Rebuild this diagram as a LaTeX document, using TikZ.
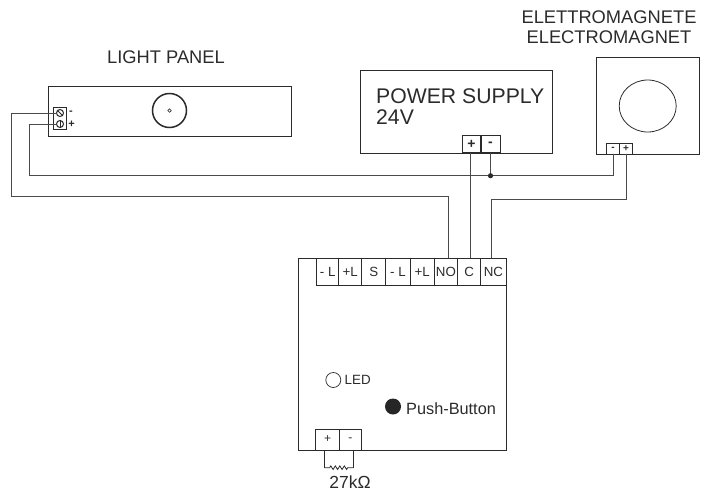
\documentclass[tikz,border=0pt]{standalone}
\usepackage{fontspec}
\setmainfont{Liberation Sans}
\usetikzlibrary{decorations.pathmorphing,shapes.geometric}
\definecolor{ink}{HTML}{2B2B2B}
\definecolor{wiregray}{HTML}{4A4A4A}
\tikzstyle{devbox} = [draw=ink, line width=1.2pt, rectangle, inner sep=0, anchor=north west]
\tikzstyle{cell} = [draw=ink, line width=0.8pt, rectangle, inner sep=0, text=ink, font=\fontsize{13.3}{13.3}\selectfont, minimum height=27.5pt]
\tikzstyle{smallcell} = [draw=ink, line width=0.8pt, rectangle, inner sep=0, text=ink, font=\fontsize{12}{12}\selectfont]
\tikzstyle{wire} = [draw=wiregray, line width=0.9pt, line join=miter]
\tikzstyle{title} = [text=ink, inner sep=0, font=\fontsize{18.3}{20}\selectfont]
\tikzstyle{screw} = [draw=ink, circle, line width=1pt, inner sep=0, minimum size=7pt]

\begin{document}
\begin{tikzpicture}[x=1pt,y=-1pt]
\useasboundingbox (0,0) rectangle (714,493);
% light panel
\node [devbox, minimum width=243pt, minimum height=50pt] (panel) at (48,86) {};
\node [draw=ink, line width=0.8pt, inner sep=0, minimum width=12.5pt, minimum height=21.5pt] (block) at (60,118.5) {};
\node [screw] (screwMinus) at (60,113) {};
\node [screw] (screwPlus) at (60,124) {};
\draw [ink, line width=0.8pt] (screwMinus.north west) -- (screwMinus.south east);
\draw [ink, line width=0.8pt] (screwPlus.north) -- (screwPlus.south);
\node [inner sep=0, text=ink, font=\fontsize{11}{11}\selectfont\bfseries] (lblMinus) at (71,112.5) {-};
\node [inner sep=0, text=ink, font=\fontsize{11}{11}\selectfont\bfseries] (lblPlus) at (71.5,124) {+};
\node [draw=ink, circle, line width=1.5pt, inner sep=0, minimum size=34pt] (lens) at (169.5,110.5) {};
\node [draw=ink, circle, line width=0.7pt, inner sep=0, minimum size=3.5pt] (lensDot) at (lens.center) {};
\node [title] (panelTitle) at (166,57.5) {LIGHT PANEL};

% power supply
\node [devbox, minimum width=191.5pt, minimum height=82.5pt] (supply) at (360,70) {};
\node [title, font=\fontsize{21.2}{21}\selectfont, align=left, anchor=north west] (supplyTitle) at (376,88.5) {POWER SUPPLY\\24V};
\node [smallcell, line width=1pt, minimum width=18.5pt, minimum height=17pt, font=\fontsize{14}{14}\selectfont\bfseries] (supPlus) at (471.5,144) {+};
\node [smallcell, line width=1pt, minimum width=19pt, minimum height=17pt, font=\fontsize{14}{14}\selectfont\bfseries] (supMinus) at (490.5,144) {-};

% electromagnet
\node [devbox, minimum width=102.5pt, minimum height=97.5pt] (magnet) at (596,56.5) {};
\node [draw=ink, line width=0.8pt, ellipse, inner sep=0, minimum width=57pt, minimum height=52pt] (core) at (647.7,106) {};
\node [smallcell, minimum width=13pt, minimum height=11pt, font=\fontsize{10}{10}\selectfont\bfseries] (magMinus) at (613,148.5) {-};
\node [smallcell, minimum width=13pt, minimum height=11pt, font=\fontsize{10}{10}\selectfont\bfseries] (magPlus) at (626,148.5) {+};
\node [title, align=center] (magnetTitle) at (609,27) {ELETTROMAGNETE\\ELECTROMAGNET};

% relay board
\node [devbox, minimum width=208pt, minimum height=192pt] (board) at (298,258) {};
\node [cell, minimum width=22pt] (mL1) at (327.7,271.7) {- L};
\node [cell, minimum width=23pt] (pL1) at (350.2,271.7) {+L};
\node [cell, minimum width=24pt] (sense) at (373.7,271.7) {S};
\node [cell, minimum width=24.6pt] (mL2) at (398,271.7) {- L};
\node [cell, minimum width=23.7pt] (pL2) at (422.2,271.7) {+L};
\node [cell, minimum width=23.7pt] (contactNO) at (445.9,271.7) {NO};
\node [cell, minimum width=23pt] (contactC) at (469.2,271.7) {C};
\node [cell, minimum width=25.3pt] (contactNC) at (493.4,271.7) {NC};
\node [draw=ink, line width=0.7pt, circle, inner sep=0, minimum size=15pt] (led) at (333.3,380) {};
\node [text=ink, inner sep=0, anchor=west, font=\fontsize{13.4}{13.4}\selectfont] (ledText) at (344.5,380) {LED};
\node [fill=black!85, circle, inner sep=0, minimum size=16pt] (button) at (393,406.5) {};
\node [text=ink, inner sep=0, anchor=west, font=\fontsize{16.3}{16.3}\selectfont] (buttonText) at (406,408.5) {Push-Button};
\node [smallcell, line width=1pt, minimum width=23.6pt, minimum height=21pt] (boardPlus) at (327.5,439.5) {+};
\node [smallcell, line width=1pt, minimum width=22pt, minimum height=21pt] (boardMinus) at (350.3,439.5) {-};

% wires
\coordinate (bendA) at (11,196);
\coordinate (bendB) at (29.5,175.7);
\coordinate (bendC) at (491.7,199.5);
\coordinate (resL) at (324.7,467.7);
\coordinate (resR) at (353.3,467.7);
\draw [wire] (screwMinus.west) -| (bendA) -| ([xshift=2.5pt]contactNO.north);
\draw [wire] (screwPlus.west) -| (bendB) -| (magMinus.south);
\draw [wire] ([xshift=-1.5pt]supPlus.south) -- ([xshift=-1.5pt]supPlus.south |- contactC.north);
\draw [wire] (supMinus.south) -- (supMinus.south |- bendB);
\fill [ink] (supMinus.south |- bendB) circle (2.6);
\draw [wire] (magPlus.south) |- (bendC) -- (bendC |- contactNC.north);

% resistor
\draw [ink, line width=0.8pt] ([xshift=-2.8pt]boardPlus.south) -- (resL);
\draw [ink, line width=0.8pt] ([xshift=3pt]boardMinus.south) -- (resR);
\draw [ink, line width=0.8pt, decorate, decoration={zigzag, segment length=4.5pt, amplitude=1.8pt, pre length=5pt, post length=4pt}] (resL) -- (resR);
\node [text=ink, inner sep=0, font=\fontsize{17.5}{17.5}\selectfont] (resText) at (350,482.5) {27kΩ};
\end{tikzpicture}
\end{document}
